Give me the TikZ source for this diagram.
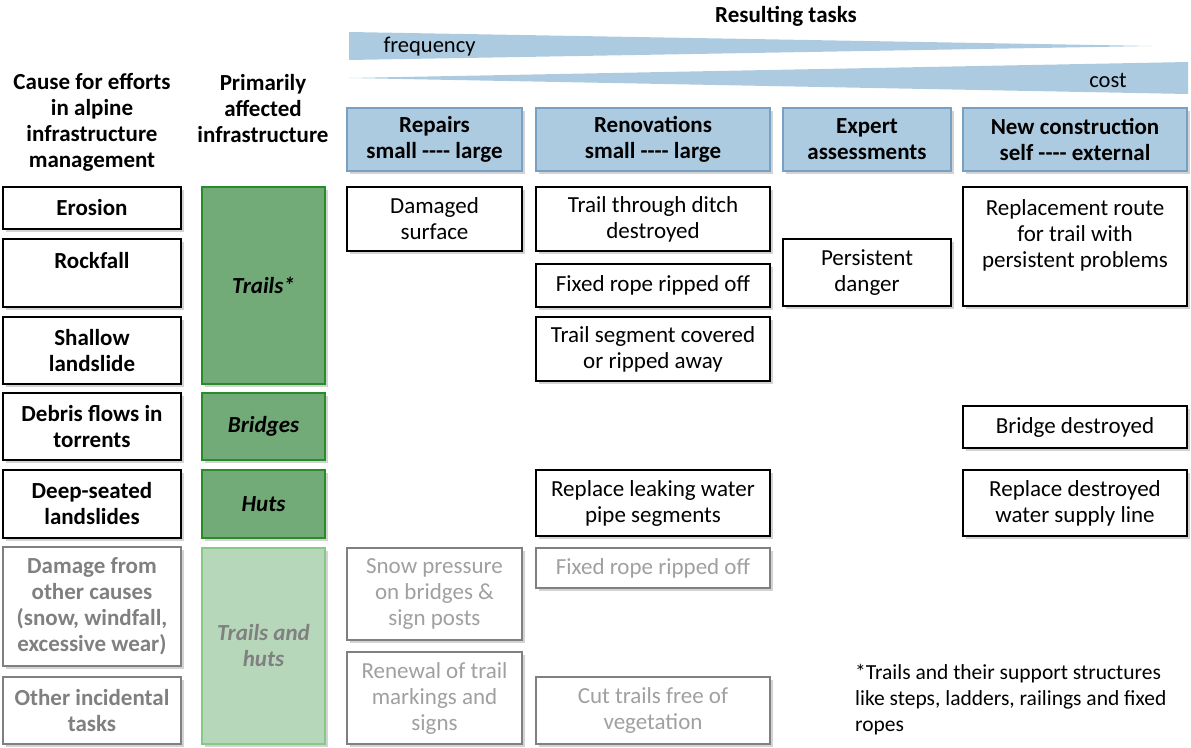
\documentclass[tikz,border=0pt]{standalone}
\usepackage{fontspec}
\setmainfont{Carlito}
\usetikzlibrary{shadows}

\definecolor{wedgeblue}{RGB}{173,203,224}
\definecolor{headline}{RGB}{120,160,195}
\definecolor{greenfill}{RGB}{114,170,120}
\definecolor{greenline}{RGB}{40,140,40}
\definecolor{palegreen}{RGB}{183,215,187}
\definecolor{palegreenline}{RGB}{135,200,135}
\definecolor{offline}{RGB}{128,128,128}
\definecolor{offtext}{RGB}{160,160,160}

\newcommand{\dashes}{-{}-{}-{}-}

\tikzset{
  base/.style={rectangle, align=center, inner sep=2pt,
    font=\fontsize{23}{26}\selectfont,
    drop shadow={shadow xshift=2.5pt, shadow yshift=-2.5pt, opacity=0.35}},
  cause/.style={base, draw=black, line width=2pt, fill=white,
    font=\fontsize{23}{26}\selectfont\bfseries, minimum width=178pt},
  causeoff/.style={cause, draw=offline, text=offline},
  infra/.style={base, draw=greenline, line width=1.5pt, fill=greenfill,
    font=\fontsize{23}{26}\selectfont\bfseries\itshape, minimum width=123pt},
  infraoff/.style={infra, draw=palegreenline, fill=palegreen, text=offline},
  head/.style={base, draw=headline, line width=1.5pt, fill=wedgeblue,
    font=\fontsize{23}{26}\selectfont\bfseries, minimum height=63pt},
  task/.style={base, draw=black, line width=2pt, fill=white},
  taskoff/.style={task, draw=offline, text=offtext},
  title/.style={align=center, font=\fontsize{23}{26}\selectfont\bfseries}
}

\begin{document}
\begin{tikzpicture}[x=1pt,y=-1pt]
\useasboundingbox (0,0) rectangle (1191,747);

% frequency and cost wedges
\fill[wedgeblue] (349,32) -- (1152,46) -- (349,60) -- cycle;
\fill[wedgeblue] (349,78) -- (1188,62) -- (1188,94) -- cycle;
\node[anchor=west, font=\fontsize{22.5}{26}\selectfont] (freq) at (380,47) {frequency};
\node[font=\fontsize{22.5}{26}\selectfont] (cost) at (1108,80) {cost};
\node[title] (tasks) at (786,16) {Resulting tasks};

% column titles
\node[title] (causehead) at (92,122) {Cause for efforts\\in alpine\\infrastructure\\management};
\node[title] (infrahead) at (263,109) {Primarily\\affected\\infrastructure};

\node[head, minimum width=175pt] (repairs) at (434.5,139.5) {Repairs\\small \dashes{} large};
\node[head, minimum width=234pt] (renov) at (653,139.5) {Renovations\\small \dashes{} large};
\node[head, minimum width=168pt] (expert) at (867,139.5) {Expert\\assessments};
\node[head, minimum width=224pt] (newcon) at (1075,139.5) {New construction\\self \dashes{} external};

% causes
\node[cause, minimum height=42pt] (erosion) at (92,208) {Erosion};
\node[cause, minimum height=68pt] (rockfall) at (92,273) {Rockfall\\\mbox{}};
\node[cause, minimum height=67pt] (shallow) at (92,350.5) {Shallow\\landslide};
\node[cause, minimum height=67pt] (debris) at (92,426.5) {Debris flows in\\torrents};
\node[cause, minimum height=68pt] (deep) at (92,504) {Deep-seated\\landslides};
\node[causeoff, minimum height=119pt] (othercause) at (92,606.5) {Damage from\\other causes\\(snow, windfall,\\excessive wear)};
\node[causeoff, minimum height=67pt] (incidental) at (92,710.5) {Other incidental\\tasks};

% infrastructure
\node[infra, minimum height=197pt] (trails) at (263.5,285.5) {Trails*};
\node[infra, minimum height=67pt] (bridges) at (263.5,426.5) {Bridges};
\node[infra, minimum height=68pt] (huts) at (263.5,504) {Huts};
\node[infraoff, minimum height=196pt] (trailshuts) at (263.5,646) {Trails and\\huts};

% tasks
\node[task, minimum width=175pt, minimum height=64pt] (surface) at (434.5,219) {Damaged\\surface};
\node[task, minimum width=234pt, minimum height=64pt] (ditch) at (653,219) {Trail through ditch\\destroyed};
\node[task, minimum width=234pt, minimum height=43pt] (rope) at (653,285.5) {Fixed rope ripped off};
\node[task, minimum width=234pt, minimum height=64pt] (segment) at (653,349) {Trail segment covered\\or ripped away};
\node[task, minimum width=168pt, minimum height=67pt] (danger) at (867,272.5) {Persistent\\danger};
\node[task, minimum width=224pt, minimum height=119pt] (route) at (1075,246.5) {Replacement route\\for trail with\\persistent problems\\\mbox{}};
\node[task, minimum width=224pt, minimum height=42pt] (bridgegone) at (1075,427) {Bridge destroyed};
\node[task, minimum width=234pt, minimum height=66pt] (pipe) at (653,503) {Replace leaking water\\pipe segments};
\node[task, minimum width=224pt, minimum height=66pt] (supply) at (1075,503) {Replace destroyed\\water supply line};

\node[taskoff, minimum width=175pt, minimum height=92pt] (snow) at (434.5,594) {Snow pressure\\on bridges \&\\sign posts};
\node[taskoff, minimum width=234pt, minimum height=40pt] (ropeoff) at (653,568) {Fixed rope ripped off};
\node[taskoff, minimum width=175pt, minimum height=92pt] (marking) at (434.5,698) {Renewal of trail\\markings and\\signs};
\node[taskoff, minimum width=234pt, minimum height=67pt] (vegetation) at (653,710.5) {Cut trails free of\\vegetation};

% footnote
\node[anchor=north west, align=left, inner sep=0pt, font=\fontsize{21.5}{26}\selectfont] (note) at (855,664)
  {*Trails and their support structures\\like steps, ladders, railings and fixed\\ropes};
\end{tikzpicture}
\end{document}
